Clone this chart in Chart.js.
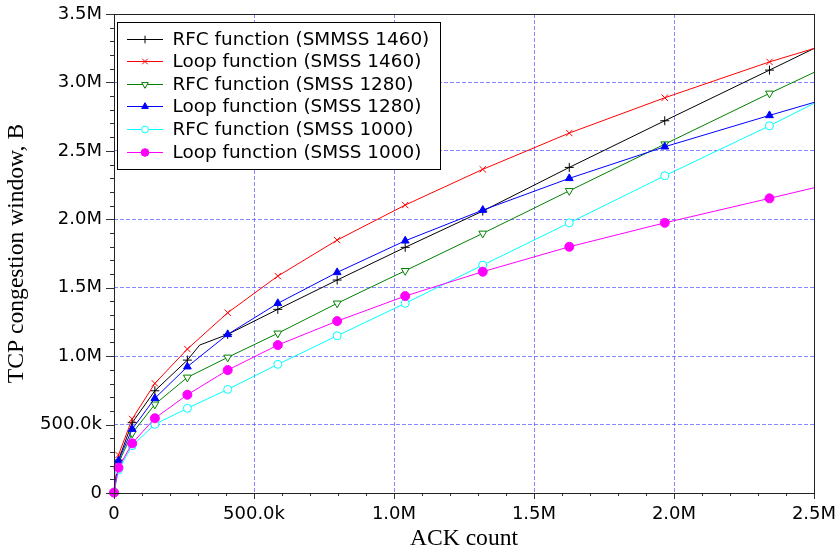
<!DOCTYPE html>
<html>
<head>
<meta charset="utf-8">
<script src="https://cdn.jsdelivr.net/npm/chart.js@4.4.1/dist/chart.umd.min.js"></script>
<style>
html,body{margin:0;padding:0;background:#fff;}
canvas{display:block;}
</style>
</head>
<body>
<canvas id="c" width="838" height="551"></canvas>
<script>
// ACK count (x) sample positions
const ackCount = [0, 16000, 65000, 146000, 262000, 306000, 406000, 585000, 797000, 1040000, 1317000, 1626000, 1967000, 2341000, 2500000];
// 1 = a marker is drawn at this sample
const markerShown = [1, 1, 1, 1, 1, 0, 1, 1, 1, 1, 1, 1, 1, 1, 0];

// TCP congestion window, B
const rfcSmmss1460  = [4000, 241000, 514000, 747000, 971000, 1081000, 1159000, 1342000, 1556000, 1795000, 2060000, 2379000, 2720000, 3090000, 3248000];
const loopSmss1460  = [4000, 278000, 541000, 801000, 1052000, null, 1317000, 1585000, 1848000, 2104000, 2365000, 2630000, 2888000, 3150000, 3248000];
const rfcSmss1280   = [4000, 219000, 436000, 648000, 845000, null, 991000, 1167000, 1386000, 1624000, 1897000, 2208000, 2549000, 2920000, 3073000];
const loopSmss1280  = [4000, 236000, 467000, 692000, 923000, null, 1159000, 1386000, 1612000, 1843000, 2067000, 2299000, 2530000, 2759000, 2854000];
const rfcSmss1000   = [3000, 168000, 346000, 502000, 619000, null, 757000, 940000, 1149000, 1386000, 1665000, 1974000, 2318000, 2683000, 2847000];
const loopSmss1000  = [3000, 185000, 363000, 546000, 718000, null, 898000, 1081000, 1256000, 1439000, 1617000, 1799000, 1974000, 2153000, 2230000];

const seriesLabels = [
  'RFC function (SMMSS 1460)',
  'Loop function (SMSS 1460)',
  'RFC function (SMSS 1280)',
  'Loop function (SMSS 1280)',
  'RFC function (SMSS 1000)',
  'Loop function (SMSS 1000)'
];

const xTickLabels = {0: '0', 500000: '500.0k', 1000000: '1.0M', 1500000: '1.5M', 2000000: '2.0M', 2500000: '2.5M'};
const yTickLabels = {0: '0', 500000: '500.0k', 1000000: '1.0M', 1500000: '1.5M', 2000000: '2.0M', 2500000: '2.5M', 3000000: '3.0M', 3500000: '3.5M'};

const seriesValues = [rfcSmmss1460, loopSmss1460, rfcSmss1280, loopSmss1280, rfcSmss1000, loopSmss1000];
const styles = [
  {color: '#000000', point: 'cross',    rot: 0,   fill: '#000000', r: 4.5},
  {color: '#ff0000', point: 'crossRot', rot: 0,   fill: '#ff0000', r: 4.5},
  {color: '#008000', point: 'triangle', rot: 180, fill: '#ffffff', r: 4.5},
  {color: '#0000ff', point: 'triangle', rot: 0,   fill: '#0000ff', r: 4.5},
  {color: '#00ffff', point: 'circle',   rot: 0,   fill: '#ffffff', r: 4},
  {color: '#ff00ff', point: 'circle',   rot: 0,   fill: '#ff00ff', r: 4.5}
];

const datasets = seriesValues.map((vals, i) => {
  const s = styles[i];
  return {
    label: seriesLabels[i],
    data: ackCount.map((x, k) => ({x: x, y: vals[k]})),
    borderColor: s.color,
    backgroundColor: s.fill,
    borderWidth: 1,
    pointStyle: s.point,
    pointRotation: s.rot,
    pointBackgroundColor: s.fill,
    pointBorderColor: s.color,
    pointBorderWidth: 1,
    pointRadius: ctx => markerShown[ctx.dataIndex] ? s.r : 0,
    pointHoverRadius: ctx => markerShown[ctx.dataIndex] ? s.r : 0,
    spanGaps: true,
    tension: 0,
    clip: false,
    order: seriesValues.length - i
  };
});

const isMajor = v => Math.round(v) % 500000 === 0;
const gridColor = 'rgba(95,95,255,0.75)';

function drawMarker(ctx, style, x, y, r, rot, color, fill) {
  ctx.save();
  ctx.strokeStyle = color;
  ctx.fillStyle = fill;
  ctx.lineWidth = 1;
  ctx.beginPath();
  if (style === 'cross') {
    ctx.moveTo(x - r, y); ctx.lineTo(x + r, y);
    ctx.moveTo(x, y - r); ctx.lineTo(x, y + r);
    ctx.stroke();
  } else if (style === 'crossRot') {
    const d = r * Math.SQRT1_2;
    ctx.moveTo(x - d, y - d); ctx.lineTo(x + d, y + d);
    ctx.moveTo(x - d, y + d); ctx.lineTo(x + d, y - d);
    ctx.stroke();
  } else if (style === 'triangle') {
    const a = rot * Math.PI / 180;
    for (let k = 0; k < 3; k++) {
      const ang = a - Math.PI / 2 + k * 2 * Math.PI / 3;
      const px = x + Math.cos(ang) * r, py = y + Math.sin(ang) * r;
      if (k === 0) ctx.moveTo(px, py); else ctx.lineTo(px, py);
    }
    ctx.closePath();
    ctx.fill(); ctx.stroke();
  } else {
    ctx.arc(x, y, r, 0, Math.PI * 2);
    ctx.fill(); ctx.stroke();
  }
  ctx.restore();
}

const framePlugin = {
  id: 'frameTicksLegend',
  afterDraw(chart) {
    const ctx = chart.ctx;
    const a = chart.chartArea;
    const xs = chart.scales.x, ys = chart.scales.y;
    ctx.save();
    // tick marks
    ctx.strokeStyle = '#333';
    ctx.lineWidth = 1;
    ctx.beginPath();
    for (let v = 0; v <= 2500000; v += 100000) {
      const px = Math.round(xs.getPixelForValue(v)) + 0.5;
      const len = isMajor(v) ? 6 : 3;
      ctx.moveTo(px, a.bottom); ctx.lineTo(px, a.bottom + len);
    }
    for (let v = 0; v <= 3500000; v += 100000) {
      const py = Math.round(ys.getPixelForValue(v)) + 0.5;
      const len = isMajor(v) ? 8 : 4;
      ctx.moveTo(a.left, py); ctx.lineTo(a.left - len, py);
    }
    ctx.stroke();
    // frame
    ctx.strokeStyle = '#222';
    ctx.strokeRect(Math.round(a.left) + 0.5, Math.round(a.top) + 0.5,
                   Math.round(a.right - a.left), Math.round(a.bottom - a.top));
    // legend box
    const bx = 117.5, by = 22.5, bw = 323, bh = 147;
    ctx.fillStyle = '#ffffff';
    ctx.fillRect(bx, by, bw, bh);
    ctx.strokeStyle = '#000';
    ctx.strokeRect(bx, by, bw, bh);
    ctx.font = '18.4px "DejaVu Sans"';
    ctx.textBaseline = 'middle';
    ctx.textAlign = 'left';
    chart.data.datasets.forEach((ds, i) => {
      const s = styles[i];
      const cy = Math.round(38.5 + i * 22.65) + 0.5;
      ctx.strokeStyle = s.color;
      ctx.beginPath();
      ctx.moveTo(127, cy); ctx.lineTo(163, cy);
      ctx.stroke();
      drawMarker(ctx, s.point, 145, cy, s.r * 0.85, s.rot, s.color, s.fill);
      ctx.fillStyle = '#000';
      ctx.fillText(ds.label, 172.5, cy + 1);
    });
    ctx.restore();
  }
};

new Chart(document.getElementById('c'), {
  type: 'line',
  data: {datasets: datasets},
  plugins: [framePlugin],
  options: {
    responsive: false,
    animation: false,
    devicePixelRatio: 1,
    layout: {padding: {top: 14, right: 24, left: 0, bottom: 0}},
    plugins: {legend: {display: false}, tooltip: {enabled: false}},
    scales: {
      x: {
        type: 'linear',
        min: 0, max: 2500000,
        afterFit: s => { s.height = 58; s.paddingRight = 0; s.paddingLeft = 0; },
        border: {display: false, dash: [4, 2]},
        grid: {
          color: c => (c.tick && isMajor(c.tick.value) && c.tick.value > 0 && c.tick.value < 2500000) ? gridColor : 'rgba(0,0,0,0)',
          lineWidth: 1,
          tickColor: 'rgba(0,0,0,0)',
          tickLength: 6,
          drawTicks: true
        },
        ticks: {
          stepSize: 100000,
          autoSkip: false,
          maxRotation: 0,
          padding: 5,
          color: '#000',
          font: {family: '"DejaVu Sans"', size: 18},
          callback: v => xTickLabels[Math.round(v)] ?? ''
        },
        title: {
          display: true,
          text: 'ACK count',
          color: '#000',
          font: {family: '"Liberation Serif"', size: 23.6, lineHeight: 1},
          padding: {top: 0, bottom: 0}
        }
      },
      y: {
        type: 'linear',
        min: 0, max: 3500000,
        afterFit: s => { s.width = 114; s.paddingTop = 0; s.paddingBottom = 0; },
        border: {display: false, dash: [4, 2]},
        grid: {
          color: c => (c.tick && isMajor(c.tick.value) && c.tick.value > 0 && c.tick.value < 3500000) ? gridColor : 'rgba(0,0,0,0)',
          lineWidth: 1,
          tickColor: 'rgba(0,0,0,0)',
          tickLength: 8,
          drawTicks: true
        },
        ticks: {
          stepSize: 100000,
          autoSkip: false,
          padding: 4,
          color: '#000',
          font: {family: '"DejaVu Sans"', size: 18},
          callback: v => yTickLabels[Math.round(v)] ?? ''
        },
        title: {
          display: true,
          text: 'TCP congestion window, B',
          color: '#000',
          font: {family: '"Liberation Serif"', size: 23.6, lineHeight: 1},
          padding: {top: 5, bottom: 0}
        }
      }
    }
  }
});
</script>
</body>
</html>
